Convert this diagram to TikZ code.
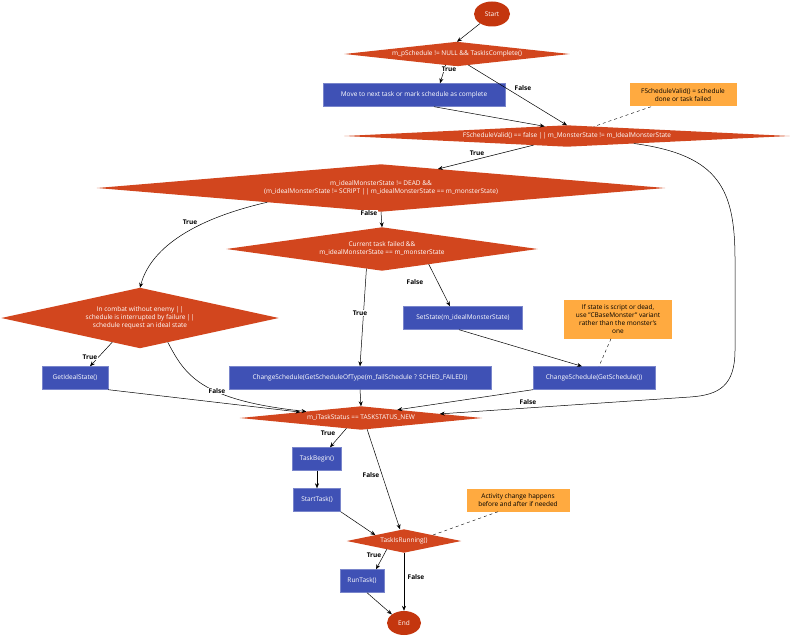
\documentclass[tikz,border=0pt]{standalone}
\usepackage{fontspec}
\setmainfont{Open Sans}
\usetikzlibrary{shapes.geometric,arrows.meta,calc,backgrounds}
\definecolor{dia}{HTML}{D2461E}
\definecolor{term}{HTML}{C4360E}
\definecolor{box}{HTML}{3F51B5}
\definecolor{note}{HTML}{FFAA40}
\begin{document}
\begin{tikzpicture}[x=1pt,y=-1pt,
  every node/.style={font=\fontsize{6.5}{8}\selectfont, inner sep=0pt},
  dm/.style={rectangle, text=white, align=center},
  tm/.style={ellipse, fill=term, text=white, minimum width=36, minimum height=25},
  bx/.style={fill=box, draw=box!70!white, text=white, minimum height=23},
  nt/.style={fill=note, text=black, align=center, minimum height=23},
  ar/.style={-{Stealth[length=5pt,width=4pt]}, black, line width=0.5pt},
  dsh/.style={dashed, black, line width=0.4pt},
  lb/.style={font=\fontsize{6.5}{8}\selectfont\bfseries, fill=white, inner sep=0.5pt}]
\useasboundingbox (0,0) rectangle (799,644);
\node[tm] (start) at (492,14) {Start};
\node[dm, minimum width=225, minimum height=24] (d1) at (457,54) {m\_pSchedule != NULL \&\& TaskIsComplete()};
\node[bx, minimum width=182] (move) at (414,95) {Move to next task or mark schedule as complete};
\node[nt, minimum width=107] (n1) at (683,95) {FScheduleValid() = schedule\\done or task failed};
\node[dm, minimum width=445, minimum height=21] (d2) at (567,136) {FScheduleValid() == false || m\_MonsterState != m\_IdealMonsterState};
\node[dm, minimum width=568, minimum height=47] (d3) at (381,188) {m\_idealMonsterState != DEAD \&\&\\(m\_idealMonsterState != SCRIPT || m\_idealMonsterState == m\_monsterState)};
\node[dm, minimum width=311, minimum height=43] (d4) at (382,249) {Current task failed \&\&\\m\_idealMonsterState == m\_monsterState};
\node[dm, minimum width=277, minimum height=60] (d5) at (140,318) {In combat without enemy ||\\schedule is interrupted by failure ||\\schedule request an ideal state};
\node[bx, minimum width=119] (ss) at (463,318) {SetState(m\_idealMonsterState)};
\node[nt, minimum width=108, minimum height=39] (n2) at (618,319) {If state is script or dead,\\use "CBaseMonster" variant\\rather than the monster's\\one};
\node[bx, minimum width=66] (gi) at (75,378) {GetIdealState()};
\node[bx, minimum width=262] (cs1) at (360,378) {ChangeSchedule(GetScheduleOfType(m\_failSchedule ? SCHED\_FAILED))};
\node[bx, minimum width=122] (cs2) at (594,378) {ChangeSchedule(GetSchedule())};
\node[dm, minimum width=242, minimum height=23] (d6) at (361,418) {m\_iTaskStatus == TASKSTATUS\_NEW};
\node[bx, minimum width=49] (tb) at (317,459) {TaskBegin()};
\node[bx, minimum width=47] (st) at (317,500) {StartTask()};
\node[nt, minimum width=103] (n3) at (518,500) {Activity change happens\\before and after if needed};
\node[dm, minimum width=114, minimum height=23] (d7) at (404,541) {TaskIsRunning()};
\node[bx, minimum width=44] (rt) at (362,581) {RunTask()};
\node[tm, minimum width=34, minimum height=24] (end) at (404,623) {End};
\begin{scope}[on background layer]
\foreach \d in {d1,d2,d3,d4,d5,d6,d7}
  \fill[dia] (\d.west) -- (\d.north) -- (\d.east) -- (\d.south) -- cycle;
\end{scope}

\draw[ar] (start) -- (d1.north);
\draw[ar] ($(d1.south)!0.1!(d1.west)$) -- ($(move.north)+(26,0)$);
\draw[ar] ($(d1.south)!0.1!(d1.east)$) -- (d2.north);
\draw[ar] ($(move.south)+(20,0)$) -- ($(d2.north)!0.1!(d2.west)$);
\draw[dsh] ($(n1.south)-(32,0)$) -- ($(d2.north)!0.12!(d2.east)$);
\draw[ar] ($(d2.south)!0.15!(d2.west)$) -- ($(d3.north)!0.2!(d3.east)$);
\draw[ar] ($(d2.south)!0.3!(d2.east)$) .. controls (720,155) and (735,190) .. (735,260) -- (735,350) .. controls (735,385) and (720,395) .. (690,397) -- ($(d6.north)!0.65!(d6.east)$);
\draw[ar] ($(d3.south)!0.4!(d3.west)$) .. controls (190,220) and (150,250) .. (d5.north);
\draw[ar] (d3.south) -- (d4.north);
\draw[ar] ($(d4.south)!0.1!(d4.west)$) -- (cs1.north);
\draw[ar] ($(d4.south)!0.3!(d4.east)$) -- ($(ss.north)-(13,0)$);
\draw[ar] ($(ss.south)-(4,0)$) -- ($(cs2.north)-(12,0)$);
\draw[dsh] ($(n2.south)-(7,0)$) -- ($(cs2.north)+(5,0)$);
\draw[ar] ($(d5.south)!0.2!(d5.west)$) -- ($(gi.north)+(15,0)$);
\draw[ar] ($(d5.south)!0.2!(d5.east)$) .. controls (185,375) and (200,400) .. ($(d6.north)!0.45!(d6.west)$);
\draw[ar] (gi.south east) -- ($(d6.north)!0.5!(d6.west)$);
\draw[ar] (cs1.south) -- (d6.north);
\draw[ar] (cs2.south west) -- ($(d6.north)!0.3!(d6.east)$);
\draw[ar] ($(d6.south)!0.12!(d6.west)$) -- ($(tb.north)+(13,0)$);
\draw[ar] ($(d6.south)!0.05!(d6.east)$) -- ($(d7.north)-(4,0)$);
\draw[ar] (tb) -- (st);
\draw[ar] (st.south east) -- ($(d7.north)!0.5!(d7.west)$);
\draw[dsh] ($(n3.south)-(20,0)$) -- ($(d7.north)!0.5!(d7.east)$);
\draw[ar] ($(d7.south)!0.3!(d7.west)$) -- ($(rt.north)+(14,0)$);
\draw[ar] (d7.south) -- (end.north);
\draw[ar] ($(rt.south)+(5,0)$) -- (end.north west);

\node[lb] (l1) at (449,69) {True};
\node[lb] (l2) at (523,88) {False};
\node[lb] (l3) at (477,153) {True};
\node[lb] (l4) at (528,402) {False};
\node[lb] (l5) at (190,222) {True};
\node[lb] (l6) at (369,213) {False};
\node[lb] (l7) at (360,313) {True};
\node[lb] (l8) at (415,282) {False};
\node[lb] (l9) at (90,357) {True};
\node[lb] (l10) at (217,391) {False};
\node[lb] (l11) at (328,433) {True};
\node[lb] (l12) at (371,475) {False};
\node[lb] (l13) at (374,555) {True};
\node[lb] (l14) at (416,577) {False};
\end{tikzpicture}
\end{document}
